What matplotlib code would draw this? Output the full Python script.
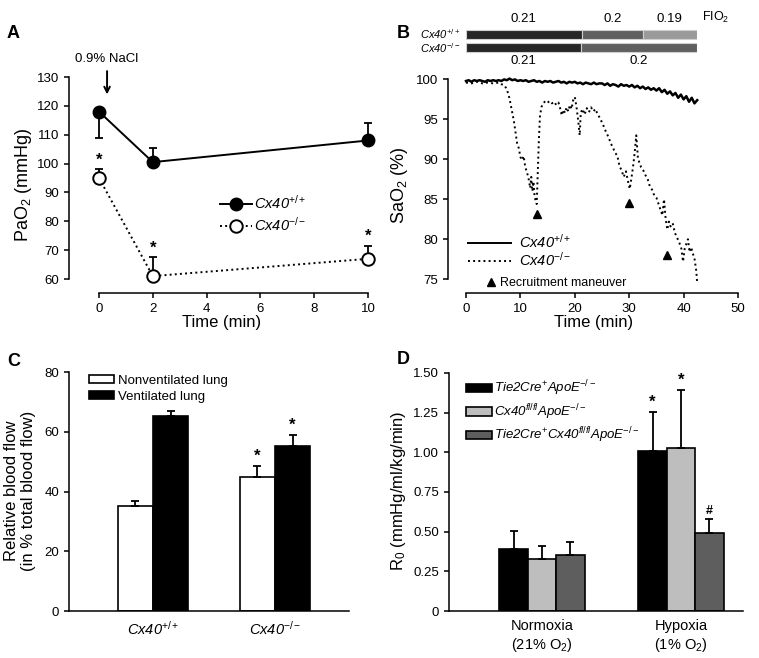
import matplotlib
matplotlib.use('Agg')
import matplotlib.pyplot as plt
from matplotlib.lines import Line2D

#%% Data
# Panel A: PaO2 after NaCl
time_a = [0, 2, 10]
pao2_wt = [118, 100.5, 108]
pao2_wt_err_lo = [9, 0, 0]
pao2_wt_err_hi = [0, 5, 6]
pao2_ko = [95, 61, 67]
pao2_ko_err_hi = [3, 6.5, 4.5]

# Panel B: SaO2 traces
t_wt = [0, 0.5, 1, 1.5, 2, 2.5, 3, 3.5, 4, 4.5, 5, 5.5, 6, 6.5, 7, 7.5, 8, 8.5, 9, 9.5,
        10, 10.5, 11, 11.5, 12, 12.5, 13, 13.5, 14, 14.5, 15, 15.5, 16, 16.5, 17, 17.5,
        18, 18.5, 19, 19.5, 20, 20.5, 21, 21.5, 22, 22.5, 23, 23.5, 24, 24.5, 25, 25.5,
        26, 26.5, 27, 27.5, 28, 28.5, 29, 29.5, 30, 30.5, 31, 31.5, 32, 32.5, 33, 33.5,
        34, 34.5, 35, 35.5, 36, 36.5, 37, 37.5, 38, 38.5, 39, 39.5, 40, 40.5, 41, 41.5,
        42, 42.5]
sao2_wt = [99.8, 99.9, 99.7, 99.9, 99.8, 99.9, 99.8, 99.7, 99.9, 99.8,
           99.9, 99.8, 99.9, 99.8, 100.0, 99.9, 100.1, 99.9, 100.0, 99.8,
           99.9, 99.8, 99.9, 99.7, 99.8, 99.9, 99.7, 99.8, 99.6, 99.8,
           99.7, 99.8, 99.6, 99.7, 99.8, 99.6, 99.7, 99.5, 99.7, 99.6,
           99.7, 99.5, 99.6, 99.4, 99.6, 99.5, 99.4, 99.6, 99.4, 99.5,
           99.5, 99.3, 99.5, 99.2, 99.4, 99.3, 99.1, 99.4, 99.2, 99.3,
           99.1, 99.3, 99.0, 99.2, 98.9, 99.1, 98.8, 99.0, 98.7, 98.9,
           98.6, 98.9, 98.4, 98.7, 98.2, 98.5, 98.0, 98.3, 97.7, 98.1,
           97.5, 97.9, 97.2, 97.7, 97.0, 97.4]
t_ko = [0, 1, 2, 3, 4, 5, 6, 6.5, 7, 7.5, 8, 8.4, 8.8, 9.1, 9.4, 9.7, 10, 10.3, 10.6,
        10.9, 11.2, 11.5, 11.8, 12.0, 12.2, 12.4, 12.6, 12.8, 13.0, 13.2, 13.4, 13.6,
        13.9, 14.2, 14.6, 15.0, 15.4, 15.8, 16.2, 16.6, 17.0, 17.3, 17.6, 17.9, 18.2,
        18.5, 18.8, 19.1, 19.4, 19.7, 20.0, 20.3, 20.6, 20.9, 21.1, 21.4, 21.8, 22.2,
        22.6, 23.0, 23.4, 23.8, 24.2, 24.6, 25.0, 25.4, 25.8, 26.2, 26.6, 27.0, 27.4,
        27.8, 28.2, 28.6, 29.0, 29.4, 29.8, 30.1, 30.4, 30.7, 31.0, 31.3, 31.6, 31.9,
        32.2, 32.6, 33.0, 33.4, 33.8, 34.2, 34.6, 35.0, 35.4, 35.8, 36.1, 36.4, 36.7,
        37.0, 37.3, 37.6, 38.0, 38.4, 38.8, 39.2, 39.6, 39.9, 40.2, 40.5, 40.8, 41.1,
        41.4, 41.7, 42.0, 42.3, 42.5]
sao2_ko = [99.6, 99.5, 99.7, 99.5, 99.6, 99.5, 99.6, 99.4, 99.3, 98.8, 97.6, 96.2, 94.8,
           93.4, 92.0, 91.4, 90.3, 89.9, 90.4, 89.0, 88.4, 87.6, 86.4, 87.8, 86.0, 87.2,
           85.4, 84.8, 84.4, 88.5, 92.5, 95.5, 96.6, 97.0, 97.3, 97.1, 97.3, 97.0, 97.2,
           96.8, 97.1, 96.4, 95.5, 96.2, 95.8, 96.5, 96.0, 96.8, 96.3, 97.4, 97.8, 96.6,
           95.0, 93.0, 95.8, 96.3, 95.6, 96.4, 95.9, 96.5, 96.0, 96.3, 95.6, 95.2, 94.6,
           94.0, 93.3, 92.8, 92.0, 91.5, 90.8, 90.5, 89.2, 88.6, 87.8, 88.5, 87.2, 86.3,
           87.6, 89.0, 90.8, 93.0, 90.2, 89.5, 89.0, 88.6, 88.0, 87.5, 86.6, 86.2, 85.5,
           85.2, 84.4, 83.6, 83.0, 85.0, 82.6, 81.2, 82.2, 81.6, 82.0, 80.8, 80.2, 79.6,
           78.8, 77.2, 78.8, 79.4, 80.0, 78.4, 79.0, 78.2, 77.6, 76.2, 74.6]
recruit_t = [13, 30, 37]
recruit_y = [83.2, 84.5, 78.0]

# FIO2 protocol bars (start, end, value)
fio2_wt = [(0, 21.3, '0.21'), (21.3, 32.5, '0.2'), (32.5, 42.5, '0.19')]
fio2_ko = [(0, 21.2, '0.21'), (21.2, 42.5, '0.2')]
fio2_colors = {'0.21': '#262626', '0.2': '#5f5f5f', '0.19': '#9a9a9a'}

# Panel C: relative blood flow
groups_c = ['Cx40$^{+/+}$', 'Cx40$^{-/-}$']
flow_nonvent = [35, 45]
flow_nonvent_err = [2, 3.6]
flow_vent = [65.2, 55.2]
flow_vent_err = [1.8, 3.6]

# Panel D: R0
groups_d = ['Normoxia\n(21% O$_2$)', 'Hypoxia\n(1% O$_2$)']
r0_labels = ['Tie2Cre$^{+}$ApoE$^{-/-}$',
             'Cx40$^{fl/fl}$ApoE$^{-/-}$',
             'Tie2Cre$^{+}$Cx40$^{fl/fl}$ApoE$^{-/-}$']
r0_vals = [[0.39, 1.01], [0.33, 1.03], [0.35, 0.49]]
r0_errs = [[0.115, 0.245], [0.08, 0.365], [0.085, 0.09]]
r0_marks = [['', '*'], ['', '*'], ['', '#']]
r0_colors = ['black', '#bebebe', '#5e5e5e']

#%% Plotting parameters
plt.rcParams['font.family'] = ['Liberation Sans', 'DejaVu Sans']
plt.rcParams['mathtext.fontset'] = 'custom'
plt.rcParams['mathtext.rm'] = 'Liberation Sans'
plt.rcParams['mathtext.it'] = 'Liberation Sans:italic'
plt.rcParams['mathtext.bf'] = 'Liberation Sans:bold'
plt.rcParams['mathtext.default'] = 'it'
plt.rcParams['axes.linewidth'] = 1.1
plt.rcParams['xtick.major.width'] = 1.1
plt.rcParams['ytick.major.width'] = 1.1
plt.rcParams['xtick.major.size'] = 3.5
plt.rcParams['ytick.major.size'] = 3.5
plt.rcParams['xtick.labelsize'] = 9.5
plt.rcParams['ytick.labelsize'] = 9.5

W, H = 759, 658
fig = plt.figure(figsize=(W / 100, H / 100), dpi=100)


def px_axes(left, top, right, bottom):
    return fig.add_axes([left / W, 1 - bottom / H, (right - left) / W, (bottom - top) / H])


def clean(ax):
    ax.spines['top'].set_visible(False)
    ax.spines['right'].set_visible(False)


lab_fs = 12
ital = dict(style='italic')

#%% Panel A
axA = px_axes(69, 77, 375, 293)
clean(axA)
axA.set_xlim(-1.115, 10.26)
axA.set_ylim(55.15, 130)
axA.spines['left'].set_bounds(60, 130)
axA.spines['bottom'].set_bounds(0, 10)
axA.set_xticks([0, 2, 4, 6, 8, 10])
axA.set_yticks(range(60, 131, 10))
axA.errorbar(time_a, pao2_wt, yerr=[pao2_wt_err_lo, pao2_wt_err_hi], fmt='none',
             ecolor='black', elinewidth=1.3, capsize=3, capthick=1.3, zorder=2)
axA.errorbar(time_a, pao2_ko, yerr=[[0, 0, 0], pao2_ko_err_hi], fmt='none',
             ecolor='black', elinewidth=1.3, capsize=3, capthick=1.3, zorder=2)
axA.plot(time_a, pao2_wt, '-o', color='black', lw=1.4, ms=9, zorder=3, clip_on=False)
axA.plot(time_a, pao2_ko, ':o', color='black', lw=1.4, ms=9, mfc='white', mew=1.4,
         zorder=3, clip_on=False)
for x, y, e in zip(time_a, pao2_ko, pao2_ko_err_hi):
    axA.text(x, y + e + 0.6, '*', ha='center', va='bottom', fontsize=12, fontweight='bold')
axA.annotate('', xy=(0.3, 123), xytext=(0.3, 133),
             arrowprops=dict(arrowstyle='->', color='black', lw=1.4), annotation_clip=False)
axA.text(0.3, 134.0, '0.9% NaCl', ha='center', va='bottom', fontsize=9.5)
axA.set_xlabel('Time (min)', fontsize=lab_fs, labelpad=0)
axA.set_ylabel('PaO$_2$ (mmHg)', fontsize=13, labelpad=2)
axA.legend([Line2D([], [], color='black', marker='o', ms=9, lw=1.4),
            Line2D([], [], color='black', marker='o', ms=9, lw=1.4, ls=':', mfc='white', mew=1.4)],
           groups_c, prop=dict(size=10.5, style='italic'),
           loc='upper left', bbox_to_anchor=(213 / W, 1 - 187 / H),
           bbox_transform=fig.transFigure, frameon=False,
           handlelength=2.2, handletextpad=0.1, labelspacing=0.25, borderpad=0)
fig.text(7 / W, 1 - 33 / H, 'A', fontsize=13, fontweight='bold', va='center')

#%% Panel B
axB = px_axes(448, 77, 740, 293)
clean(axB)
axB.set_xlim(-3.31, 50.37)
axB.set_ylim(73.27, 100.3)
axB.spines['left'].set_bounds(75, 100)
axB.spines['bottom'].set_bounds(0, 50)
axB.set_xticks(range(0, 51, 10))
axB.set_yticks(range(75, 101, 5))
axB.plot(t_wt, sao2_wt, '-', color='black', lw=1.8)
axB.plot(t_ko, sao2_ko, ':', color='black', lw=1.4)
axB.plot(recruit_t, recruit_y, '^', color='black', ms=6, ls='none')
axB.set_xlabel('Time (min)', fontsize=lab_fs, labelpad=0)
axB.set_ylabel('SaO$_2$ (%)', fontsize=13, labelpad=4)
legB = axB.legend([Line2D([], [], color='black', lw=1.4),
                   Line2D([], [], color='black', lw=1.4, ls=':')],
                  groups_c, prop=dict(size=10.5, style='italic'),
                  loc='upper left', bbox_to_anchor=(461 / W, 1 - 226 / H),
                  bbox_transform=fig.transFigure, frameon=False,
                  handlelength=2.9, handletextpad=0.6, labelspacing=0.0, borderpad=0)
axB.add_artist(legB)
axB.legend([Line2D([], [], color='black', marker='^', ls='none', ms=6)],
           ['Recruitment maneuver'], fontsize=9,
           loc='upper left', bbox_to_anchor=(478 / W, 1 - 271 / H),
           bbox_transform=fig.transFigure, frameon=False,
           handlelength=1.0, handletextpad=0.3, borderpad=0)
fig.text(397 / W, 1 - 33 / H, 'B', fontsize=13, fontweight='bold', va='center')

# FIO2 bars
axF = px_axes(466, 28, 697, 54)
axF.set_xlim(0, 42.5)
axF.set_ylim(26, 0)
axF.axis('off')
for row, segs in zip([(2, 9), (15, 9)], [fio2_wt, fio2_ko]):
    for s, e, lab in segs:
        axF.barh(row[0] + row[1] / 2, e - s, left=s, height=row[1], color=fio2_colors[lab],
                 edgecolor='#cfcfcf', lw=0.8)
for s, e, lab in fio2_wt:
    axF.text((s + e) / 2, -3, lab, ha='center', va='bottom', fontsize=9.5)
for s, e, lab in fio2_ko:
    axF.text((s + e) / 2, 27, lab, ha='center', va='top', fontsize=9.5)
axF.text(-1, 6.5, groups_c[0], ha='right', va='center', fontsize=8, **ital)
axF.text(-1, 20, groups_c[1], ha='right', va='center', fontsize=8, **ital)
axF.text(43.5, -3, 'FIO$_2$', ha='left', va='bottom', fontsize=9)

#%% Panel C
axC = px_axes(69, 370, 349, 611)
clean(axC)
axC.set_xlim(0.311, 2.607)
axC.set_ylim(0, 80.7)
axC.spines['left'].set_bounds(0, 80)
axC.set_yticks(range(0, 81, 20))
xc = [1, 2]
bw = 0.29
axC.bar([x - bw / 2 for x in xc], flow_nonvent, bw, color='white', edgecolor='black', lw=1.2,
        yerr=[[0, 0], flow_nonvent_err], capsize=3,
        error_kw=dict(elinewidth=1.3, capthick=1.3), label='Nonventilated lung')
axC.bar([x + bw / 2 for x in xc], flow_vent, bw, color='black', edgecolor='black', lw=1.2,
        yerr=[[0, 0], flow_vent_err], capsize=3,
        error_kw=dict(elinewidth=1.3, capthick=1.3), label='Ventilated lung')
axC.text(xc[1] - bw / 2, flow_nonvent[1] + flow_nonvent_err[1] + 0.8, '*', ha='center',
         va='bottom', fontsize=12, fontweight='bold')
axC.text(xc[1] + bw / 2, flow_vent[1] + flow_vent_err[1] + 0.8, '*', ha='center',
         va='bottom', fontsize=12, fontweight='bold')
axC.set_xticks(xc)
axC.set_xticklabels(groups_c, fontsize=10.5, style='italic')
axC.tick_params(axis='x', length=0, pad=6)
axC.set_ylabel('Relative blood flow\n(in % total blood flow)', fontsize=lab_fs, labelpad=6)
axC.legend(loc='upper left', bbox_to_anchor=(82 / W, 1 - 368 / H),
           bbox_transform=fig.transFigure, frameon=False, fontsize=9.5,
           handlelength=1.9, handleheight=0.55, handletextpad=0.3, labelspacing=0.3, borderpad=0)
fig.text(7 / W, 1 - 361 / H, 'C', fontsize=13, fontweight='bold', va='center')

#%% Panel D
axD = px_axes(449, 371, 743, 611)
clean(axD)
axD.set_xlim(0.331, 2.446)
axD.set_ylim(0, 1.512)
axD.spines['left'].set_bounds(0, 1.5)
axD.set_yticks([0, 0.25, 0.5, 0.75, 1.0, 1.25, 1.5])
axD.set_yticklabels(['0', '0.25', '0.50', '0.75', '1.00', '1.25', '1.50'])
xd = [1, 2]
bwd = 0.204
for i in range(3):
    pos = [x + (i - 1) * bwd for x in xd]
    axD.bar(pos, r0_vals[i], bwd, color=r0_colors[i], edgecolor='black', lw=1.2,
            yerr=[[0, 0], r0_errs[i]], capsize=3,
            error_kw=dict(elinewidth=1.3, capthick=1.3), label=r0_labels[i])
    for p, v, e, m in zip(pos, r0_vals[i], r0_errs[i], r0_marks[i]):
        if m:
            axD.text(p, v + e + 0.012, m, ha='center', va='bottom',
                     fontsize=12 if m == '*' else 9, fontweight='bold')
axD.set_xticks(xd)
axD.set_xticklabels(groups_d, fontsize=10.5)
axD.tick_params(axis='x', length=0, pad=6)
axD.set_ylabel('R$_0$ (mmHg/ml/kg/min)', fontsize=lab_fs, labelpad=4)
axD.legend(loc='upper left', bbox_to_anchor=(459 / W, 1 - 372 / H),
           bbox_transform=fig.transFigure, frameon=False,
           prop=dict(size=9.5, style='italic'),
           handlelength=2.0, handleheight=0.6, handletextpad=0.15, labelspacing=0.3, borderpad=0)
fig.text(397 / W, 1 - 360 / H, 'D', fontsize=13, fontweight='bold', va='center')

fig.savefig('out.png', dpi=100)
